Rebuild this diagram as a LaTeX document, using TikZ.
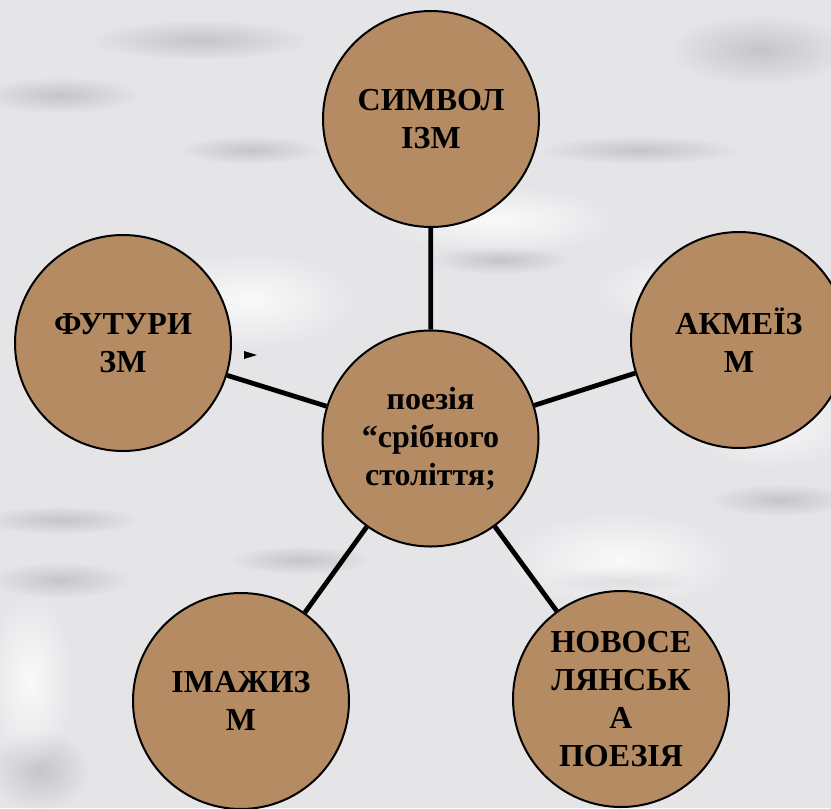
\documentclass[tikz,border=0pt]{standalone}
\usepackage{fontspec}
\setmainfont{Liberation Serif}[BoldFont={Liberation Serif Bold}]
\newfontfamily\bubfont{Liberation Serif Bold}
\usetikzlibrary{fadings}
\tikzfading[name=soft, inner color=transparent!0, outer color=transparent!100]
\definecolor{bub}{RGB}{180,139,99}
\definecolor{bgbase}{RGB}{229,229,232}
\definecolor{bgdark}{RGB}{175,175,182}
\tikzset{
  bubble/.style={circle, draw=black, line width=1.5pt, fill=bub, minimum size=162pt, inner sep=0pt, align=center, font=\bubfont\fontsize{24}{28.5}\selectfont},
  link/.style={line width=3.6pt, black},
  blob/.style={fill=bgdark, path fading=soft, fill opacity=0.6},
  wblob/.style={fill=white, path fading=soft, fill opacity=0.8}
}
\begin{document}
\begin{tikzpicture}[x=0.75pt,y=-0.75pt]
\useasboundingbox (0,0) rectangle (831,808);
\fill[bgbase] (0,0) rectangle (831,808);
% background texture
\fill[blob] (60,95) ellipse (80 and 18);
\fill[blob] (200,40) ellipse (110 and 20);
\fill[blob] (250,150) ellipse (70 and 14);
\fill[blob] (640,150) ellipse (100 and 14);
\fill[blob] (760,50) ellipse (90 and 35);
\fill[blob] (780,500) ellipse (70 and 16);
\fill[blob] (60,580) ellipse (70 and 18);
\fill[blob] (60,520) ellipse (80 and 14);
\fill[blob] (500,260) ellipse (70 and 14);
\fill[blob] (300,560) ellipse (70 and 14);
\fill[blob] (620,580) ellipse (70 and 14);
\fill[blob] (40,770) ellipse (50 and 40);
\fill[wblob] (700,290) ellipse (110 and 40);
\fill[wblob] (620,560) ellipse (120 and 50);
\fill[wblob] (30,680) ellipse (45 and 90);
\fill[wblob] (250,300) ellipse (110 and 50);
\fill[wblob] (500,220) ellipse (120 and 35);
\fill[wblob] (770,420) ellipse (90 and 50);
% nodes
\node[bubble] (c)  at (430.5,438.5) {поезія\\“срібного\\століття;};
\node[bubble] (s)  at (431,119) {СИМВОЛ\\ІЗМ};
\node[bubble] (f)  at (123,343) {ФУТУРИ\\ЗМ};
\node[bubble] (a)  at (739,340) {АКМЕЇЗ\\М};
\node[bubble] (i)  at (241,701) {ІМАЖИЗ\\М};
\node[bubble] (n)  at (621,699) {НОВОСЕ\\ЛЯНСЬК\\А\\ПОЕЗІЯ};
% connectors
\draw[link] (c) -- (s);
\draw[link] (c) -- (f);
\draw[link] (c) -- (a);
\draw[link] (c) -- (i);
\draw[link] (c) -- (n);
% stray marker
\fill[black] (244,351) -- (257,355) -- (244,359) -- cycle;
\end{tikzpicture}
\end{document}
